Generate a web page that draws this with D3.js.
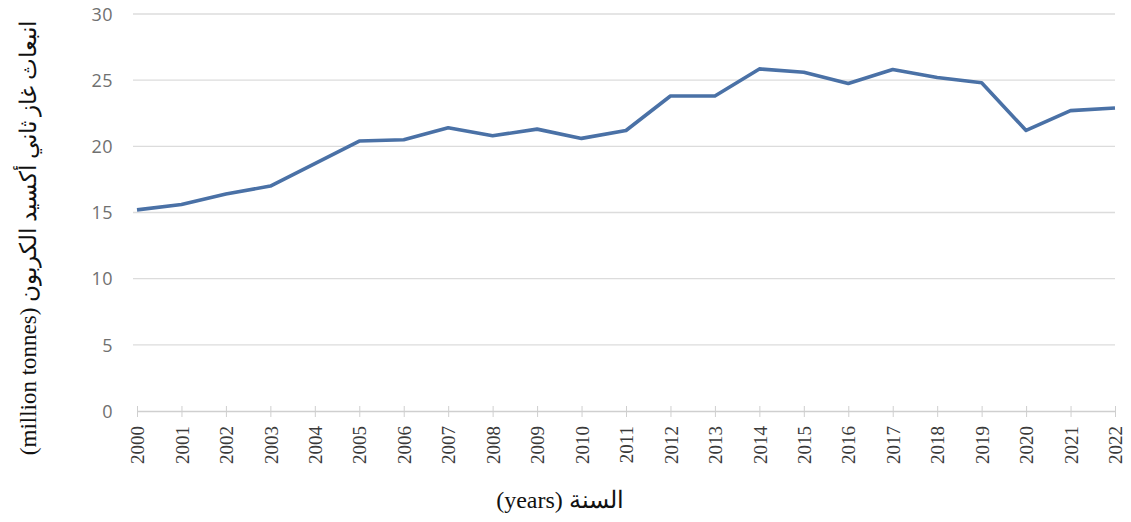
<!DOCTYPE html>
<html>
<head>
<meta charset="utf-8">
<script src="https://cdn.jsdelivr.net/npm/d3@7"></script>
<style>
  body { margin: 0; background: #fff; }
  svg { display: block; }
</style>
</head>
<body>
<div id="chart"></div>
<script>
const years = [2000, 2001, 2002, 2003, 2004, 2005, 2006, 2007, 2008, 2009, 2010, 2011,
               2012, 2013, 2014, 2015, 2016, 2017, 2018, 2019, 2020, 2021, 2022];
const emissions = [15.2, 15.6, 16.4, 17.0, 18.7, 20.4, 20.5, 21.4, 20.8, 21.3, 20.6, 21.2,
                   23.8, 23.8, 25.85, 25.6, 24.75, 25.8, 25.2, 24.8, 21.2, 22.7, 22.9];
const yTicks = [0, 5, 10, 15, 20, 25, 30];
const yTitle = "انبعاث غاز ثاني أكسيد الكربون (million tonnes)";
const xTitle = "السنة (years)";

const width = 1131, height = 522;
const margin = { top: 14, right: 16, bottom: 111, left: 137 };

const svg = d3.select("#chart").append("svg")
    .attr("width", width)
    .attr("height", height);

const x = d3.scalePoint()
    .domain(years)
    .range([margin.left, width - margin.right]);

const y = d3.scaleLinear()
    .domain([0, 30])
    .range([height - margin.bottom, margin.top]);

// gridlines
svg.append("g")
    .selectAll("line")
    .data(yTicks.filter(d => d > 0))
    .enter()
    .append("line")
    .attr("x1", margin.left - 4)
    .attr("x2", width - margin.right)
    .attr("y1", d => y(d))
    .attr("y2", d => y(d))
    .attr("stroke", "#dcdcdc")
    .attr("stroke-width", 1.3);

// y axis labels
const yAxis = d3.axisLeft(y).tickValues(yTicks).tickSize(0).tickPadding(24);
svg.append("g")
    .attr("transform", `translate(${margin.left}, 0)`)
    .call(yAxis)
    .call(g => g.select(".domain").remove())
    .call(g => g.selectAll("text")
        .attr("fill", "#707070")
        .attr("font-family", "'Open Sans', sans-serif")
        .attr("font-size", 18)
        .attr("letter-spacing", 0.5)
        .attr("dy", "0.35em"));

// x axis
const xAxis = d3.axisBottom(x).tickSize(6).tickSizeOuter(0).tickPadding(0);
const xg = svg.append("g")
    .attr("transform", `translate(0, ${y(0)})`)
    .call(xAxis);
xg.select(".domain").attr("stroke", "#cfcfcf").attr("stroke-width", 1.3);
xg.selectAll(".tick line").attr("stroke", "#cfcfcf").attr("y1", -5).attr("y2", 6);
xg.selectAll(".tick text")
    .attr("transform", "rotate(-90)")
    .attr("text-anchor", "end")
    .attr("x", -15)
    .attr("y", 0)
    .attr("dy", "0.35em")
    .attr("fill", "#3a3a3a")
    .attr("font-family", "'Liberation Serif', serif")
    .attr("font-size", 19);

// line
const line = d3.line()
    .x((d, i) => x(years[i]))
    .y(d => y(d));

svg.append("path")
    .datum(emissions)
    .attr("fill", "none")
    .attr("stroke", "#4a71a6")
    .attr("stroke-width", 3.6)
    .attr("stroke-linejoin", "round")
    .attr("d", line);

// axis titles
svg.append("text")
    .attr("transform", `translate(36, ${(14 + 462) / 2}) rotate(-90)`)
    .attr("text-anchor", "middle")
    .attr("direction", "rtl")
    .attr("fill", "#111")
    .attr("font-family", "'Liberation Serif', 'DejaVu Serif', serif")
    .attr("font-size", 23)
    .text(yTitle);

svg.append("text")
    .attr("x", 560)
    .attr("y", 508)
    .attr("text-anchor", "middle")
    .attr("direction", "rtl")
    .attr("fill", "#111")
    .attr("font-family", "'Liberation Serif', 'DejaVu Serif', serif")
    .attr("font-size", 24)
    .text(xTitle);
</script>
</body>
</html>
